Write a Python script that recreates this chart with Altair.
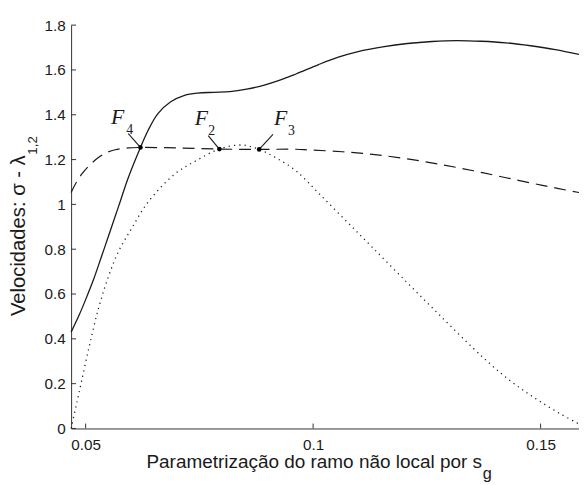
import altair as alt
import pandas as pd

# ---- data ----
solid_x = [0.04681, 0.04855, 0.05, 0.0518, 0.05353, 0.05505, 0.05722, 0.05939, 0.06205,
           0.06372, 0.06589, 0.0687, 0.07174, 0.07456, 0.07824, 0.08171, 0.08539,
           0.08908, 0.09254, 0.09623, 0.10121, 0.10555, 0.10988, 0.11530, 0.12072,
           0.12614, 0.13156, 0.13698, 0.1424, 0.14782, 0.15323, 0.15844]
solid_y = [0.43, 0.505, 0.575, 0.668, 0.77, 0.86, 0.99, 1.12, 1.254,
           1.33, 1.405, 1.458, 1.487, 1.497, 1.500, 1.503, 1.514,
           1.531, 1.553, 1.582, 1.624, 1.657, 1.682, 1.703, 1.718,
           1.727, 1.731, 1.728, 1.721, 1.708, 1.691, 1.669]

dashed_x = [0.04681, 0.04800, 0.04926, 0.05072, 0.05288, 0.05461, 0.05650, 0.05939,
            0.06205, 0.07007, 0.07939, 0.08814, 0.09623, 0.09905, 0.10642, 0.11357,
            0.12072, 0.12809, 0.13524, 0.1424, 0.15042, 0.15844]
dashed_y = [1.053, 1.100, 1.138, 1.172, 1.210, 1.231, 1.244, 1.252,
            1.254, 1.252, 1.2468, 1.2455, 1.246, 1.243, 1.235, 1.222,
            1.203, 1.178, 1.150, 1.119, 1.085, 1.053]

dotted_x = [0.04681, 0.0479, 0.04898, 0.05072, 0.05288, 0.05505, 0.05722, 0.06003,
            0.06372, 0.06957, 0.07456, 0.07939, 0.08431, 0.08814, 0.09189, 0.09623,
            0.10121, 0.10707, 0.11292, 0.12072, 0.12809, 0.13524, 0.13892, 0.1424,
            0.14608, 0.14977, 0.15410, 0.15844]
dotted_y = [0.0, 0.10, 0.20, 0.36, 0.54, 0.68, 0.79, 0.89,
            1.01, 1.135, 1.198, 1.2468, 1.265, 1.2455, 1.207, 1.150,
            1.050, 0.930, 0.810, 0.650, 0.500, 0.357, 0.288, 0.228,
            0.172, 0.122, 0.068, 0.02]

pt_x = [0.06205, 0.07939, 0.08814]
pt_y = [1.2543, 1.2468, 1.2455]
lead_x = [0.05938, 0.07694, 0.09118]
lead_y = [1.316, 1.3071, 1.3128]
lab_text = ["F", "F", "F"]
lab_x = [0.0556, 0.0740, 0.0914]
lab_y = [1.360, 1.3555, 1.3555]
sub_text = ["4", "2", "3"]
sub_x = [0.05895, 0.07694, 0.0945]
sub_y = [1.316, 1.3115, 1.3115]

x_ticks = [0.05, 0.1, 0.15]
y_ticks = [0, 0.2, 0.4, 0.6, 0.8, 1.0, 1.2, 1.4, 1.6, 1.8]

x_title = "Parametrização do ramo não local por s"
y_title = "Velocidades: σ - λ"

W, H = 515, 409
FONT = "Liberation Sans"
INK = "#1a1a1a"

xscale = alt.Scale(domain=[0.04681, 0.15844], nice=False, zero=False)
yscale = alt.Scale(domain=[0, 1.8], nice=False, zero=False)

xaxis = alt.Axis(values=x_ticks, format="~g", ticks=False, grid=False,
                 labelFont=FONT, labelFontSize=15.5, labelPadding=9, labelColor=INK,
                 domainColor="#333333", domainWidth=1,
                 title=x_title, titleFont=FONT, titleFontSize=19.2, titleFontWeight="normal",
                 titleColor=INK, titleBaseline="alphabetic", titleAlign="center",
                 titleX=246, titleY=40)
yaxis = alt.Axis(values=y_ticks, format="~g", ticks=False, grid=False,
                 labelFont=FONT, labelFontSize=15.5, labelPadding=6, labelColor=INK,
                 domainColor="#333333", domainWidth=1,
                 title=y_title, titleFont=FONT, titleFontSize=20.5, titleFontWeight="normal",
                 titleColor=INK, titleAngle=270, titleBaseline="alphabetic",
                 titleAlign="center", titleX=-47, titleY=213)


def X(f):
    return alt.X(f, type="quantitative", scale=xscale, axis=xaxis)


def Y(f):
    return alt.Y(f, type="quantitative", scale=yscale, axis=yaxis)


solid = alt.Chart(pd.DataFrame({"x": solid_x, "y": solid_y})).mark_line(
    color=INK, strokeWidth=1.3, interpolate="catmull-rom").encode(x=X("x"), y=Y("y"))
dashed = alt.Chart(pd.DataFrame({"x": dashed_x, "y": dashed_y})).mark_line(
    color=INK, strokeWidth=1.2, strokeDash=[12, 7], interpolate="catmull-rom").encode(x=X("x"), y=Y("y"))
dotted = alt.Chart(pd.DataFrame({"x": dotted_x, "y": dotted_y})).mark_line(
    color=INK, strokeWidth=1.3, strokeDash=[1.2, 4.2], interpolate="catmull-rom").encode(x=X("x"), y=Y("y"))

pts = pd.DataFrame({"x": pt_x, "y": pt_y, "lx": lead_x, "ly": lead_y,
                    "tx": lab_x, "ty": lab_y, "t": lab_text,
                    "sx": sub_x, "sy": sub_y, "s": sub_text})

leaders = alt.Chart(pts).mark_rule(color=INK, strokeWidth=1.1).encode(
    x=X("lx"), y=Y("ly"), x2=alt.X2("x"), y2=alt.Y2("y"))
dots = alt.Chart(pts).mark_circle(color="black", size=22, opacity=1).encode(x=X("x"), y=Y("y"))
labels = alt.Chart(pts).mark_text(font="Liberation Serif", fontStyle="italic", fontSize=22,
                                  align="left", baseline="alphabetic", color=INK).encode(
    x=X("tx"), y=Y("ty"), text="t:N")
subs = alt.Chart(pts).mark_text(font="Liberation Serif", fontSize=14,
                                align="left", baseline="alphabetic", color=INK).encode(
    x=X("sx"), y=Y("sy"), text="s:N")

xt = alt.Chart(pd.DataFrame({"v": x_ticks})).mark_rule(color="#333333", strokeWidth=1).encode(
    x=X("v"), y=alt.value(H), y2=alt.value(H - 5))
yt = alt.Chart(pd.DataFrame({"v": y_ticks})).mark_rule(color="#333333", strokeWidth=1).encode(
    y=Y("v"), x=alt.value(0), x2=alt.value(5))

one = pd.DataFrame({"k": [0]})
ysub = alt.Chart(one).mark_text(text="1,2", font=FONT, fontSize=13.5, angle=270,
                                align="center", baseline="alphabetic", color=INK).encode(
    x=alt.value(-35), y=alt.value(122))
xsub = alt.Chart(one).mark_text(text="g", font=FONT, fontSize=16.5,
                                align="center", baseline="alphabetic", color=INK).encode(
    x=alt.value(422), y=alt.value(460))

chart = alt.layer(solid, dashed, dotted, leaders, dots, labels, subs, xt, yt, ysub, xsub).properties(
    width=W, height=H,
    padding={"left": 64, "top": 14, "right": 0, "bottom": 58},
    autosize=alt.AutoSizeParams(type="none"),
    background="white",
).configure_view(stroke=None)

chart.save("out.html", embed_options={"renderer": "svg", "actions": False})
